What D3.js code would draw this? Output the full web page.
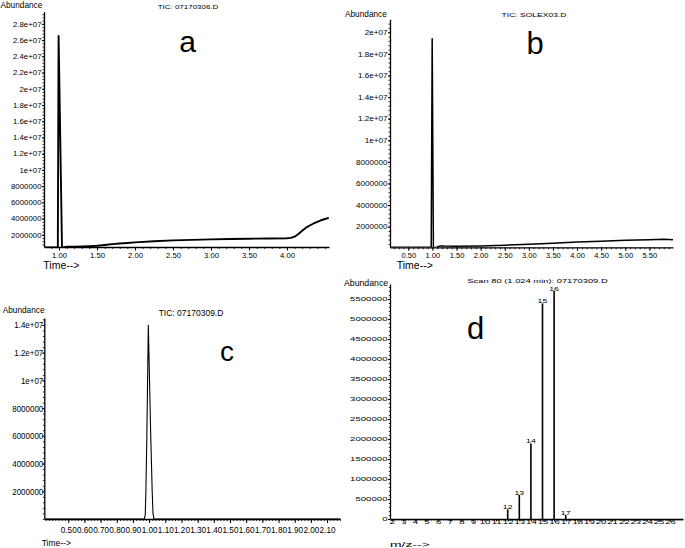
<!DOCTYPE html>
<html><head><meta charset="utf-8">
<script src="https://cdn.jsdelivr.net/npm/d3@7"></script>
<style>
body{margin:0;background:#fff}
svg{display:block}
text{font-family:"Liberation Sans",Arial,Helvetica,sans-serif;fill:#000}
</style>
</head><body>
<svg id="chart" width="685" height="548"></svg>
<script>
// ---------- DATA ----------
// Panel a: TIC 07170306.D
const aTime  = [0.803, 0.985, 0.995, 1.04, 1.06, 1.10, 1.20, 1.30, 1.40, 1.50, 1.60, 1.70, 1.80, 1.90, 2.00, 2.25, 2.50, 2.75, 3.00, 3.25, 3.50, 3.75, 4.00, 4.05, 4.10, 4.15, 4.20, 4.25, 4.30, 4.35, 4.40, 4.45, 4.50, 4.55];
const aAbund = [0.45e6, 0.45e6, 26.5e6, 0.4e6, 0.45e6, 0.53e6, 0.55e6, 0.57e6, 0.6e6, 0.65e6, 0.75e6, 0.85e6, 0.93e6, 1.0e6, 1.07e6, 1.2e6, 1.32e6, 1.38e6, 1.44e6, 1.48e6, 1.52e6, 1.55e6, 1.57e6, 1.62e6, 1.77e6, 2.1e6, 2.5e6, 2.88e6, 3.15e6, 3.4e6, 3.6e6, 3.8e6, 3.95e6, 4.1e6];
const aXTicks  = [1.0, 1.5, 2.0, 2.5, 3.0, 3.5, 4.0];
const aXLabels = ["1.00","1.50","2.00","2.50","3.00","3.50","4.00"];
const aYTicks  = [2e6,4e6,6e6,8e6,10e6,12e6,14e6,16e6,18e6,20e6,22e6,24e6,26e6,28e6];
const aYLabels = ["2000000","4000000","6000000","8000000","1e+07","1.2e+07","1.4e+07","1.6e+07","1.8e+07","2e+07","2.2e+07","2.4e+07","2.6e+07","2.8e+07"];

// Panel b: TIC SOLEX03.D
const bTime  = [0.12, 0.975, 0.995, 1.02, 1.05, 1.10, 1.15, 1.20, 1.25, 1.50, 2.00, 2.50, 3.00, 3.50, 4.00, 4.50, 5.00, 5.50, 5.80, 5.99];
const bAbund = [0.09e6, 0.09e6, 19.4e6, 0.09e6, 0.06e6, 0.12e6, 0.2e6, 0.22e6, 0.2e6, 0.19e6, 0.22e6, 0.28e6, 0.37e6, 0.46e6, 0.58e6, 0.66e6, 0.74e6, 0.8e6, 0.83e6, 0.79e6];
const bXTicks  = [0.5,1.0,1.5,2.0,2.5,3.0,3.5,4.0,4.5,5.0,5.5];
const bXLabels = ["0.50","1.00","1.50","2.00","2.50","3.00","3.50","4.00","4.50","5.00","5.50"];
const bYTicks  = [2e6,4e6,6e6,8e6,10e6,12e6,14e6,16e6,18e6,20e6];
const bYLabels = ["2000000","4000000","6000000","8000000","1e+07","1.2e+07","1.4e+07","1.6e+07","1.8e+07","2e+07"];

// Panel c: TIC 07170309.D
const cTime  = [0.352, 0.97, 0.976, 0.980, 0.986, 0.995, 1.010, 1.019, 1.024, 1.03, 2.18];
const cAbund = [0, 0, 0.3e6, 2e6, 6e6, 14e6, 6e6, 2e6, 0.4e6, 0, 0];
const cXTicks  = [0.5,0.6,0.7,0.8,0.9,1.0,1.1,1.2,1.3,1.4,1.5,1.6,1.7,1.8,1.9,2.0,2.1];
const cXLabels = ["0.50","0.60","0.70","0.80","0.90","1.00","1.10","1.20","1.30","1.40","1.50","1.60","1.70","1.80","1.90","2.00","2.10"];
const cYTicks  = [2e6,4e6,6e6,8e6,10e6,12e6,14e6];
const cYLabels = ["2000000","4000000","6000000","8000000","1e+07","1.2e+07","1.4e+07"];

// Panel d: Scan 80 mass spectrum
const dMz    = [12, 13, 14, 15, 16, 17];
const dAbund = [240000, 600000, 1890000, 5390000, 5700000, 100000];
const dXTicks  = [2,3,4,5,6,7,8,9,10,11,12,13,14,15,16,17,18,19,20,21,22,23,24,25,26];
const dYTicks  = [0,500000,1000000,1500000,2000000,2500000,3000000,3500000,4000000,4500000,5000000,5500000];
const dYLabels = ["0","500000","1000000","1500000","2000000","2500000","3000000","3500000","4000000","4500000","5000000","5500000"];

// ---------- DRAWING ----------
const svg = d3.select("#chart");

function stext(parent, x, y, str, size, sx, anchor){
  return parent.append("text")
    .attr("transform", `translate(${x},${y}) scale(${sx},1)`)
    .attr("text-anchor", anchor || "start")
    .attr("font-size", size)
    .text(str);
}

function panel(o){
  const g = svg.append("g");
  const x = d3.scaleLinear().domain(o.xDomain).range([o.x0, o.x1]);
  const y = d3.scaleLinear().domain(o.yDomain).range([o.axisY, o.yTop]);

  const xm = d3.range(Math.ceil(o.xDomain[0]/o.xMinor-1e-9)*o.xMinor, o.xDomain[1], o.xMinor);
  g.append("g").attr("transform",`translate(0,${o.axisY})`)
    .call(d3.axisBottom(x).tickValues(xm).tickFormat("").tickSize(o.xMinorSize).tickSizeOuter(0))
    .call(s=>s.select(".domain").remove())
    .selectAll("line").attr("stroke","#000").attr("stroke-width",0.8);
  const ym = d3.range(Math.ceil(o.yDomain[0]/o.yMinor-1e-9)*o.yMinor, o.yDomain[1], o.yMinor);
  g.append("g").attr("transform",`translate(${o.x0},0)`)
    .call(d3.axisLeft(y).tickValues(ym).tickFormat("").tickSize(o.yMinorSize).tickSizeOuter(0))
    .call(s=>s.select(".domain").remove())
    .selectAll("line").attr("stroke","#000").attr("stroke-width",0.8);

  const xa = g.append("g").attr("transform",`translate(0,${o.axisY})`)
    .call(d3.axisBottom(x).tickValues(o.xTicks).tickFormat((d,i)=>o.xLabels[i])
      .tickSize(o.xTickSize).tickPadding(o.xPad).tickSizeOuter(0));
  xa.select(".domain").attr("stroke","#000").attr("stroke-width",1.3);
  xa.selectAll(".tick line").attr("stroke","#000").attr("stroke-width",1);
  xa.selectAll(".tick text").attr("font-size",o.xFont).attr("font-family",null)
    .attr("transform",`scale(${o.xSx},1)`).attr("fill","#000");

  const ya = g.append("g").attr("transform",`translate(${o.x0},0)`)
    .call(d3.axisLeft(y).tickValues(o.yTicks).tickFormat((d,i)=>o.yLabels[i])
      .tickSize(o.yTickSize).tickPadding(o.yPad).tickSizeOuter(0));
  ya.select(".domain").attr("stroke","#000").attr("stroke-width",1.3);
  ya.selectAll(".tick line").attr("stroke","#000").attr("stroke-width",1);
  ya.selectAll(".tick text").attr("font-size",o.yFont).attr("font-family",null)
    .attr("x", -(o.yTickSize+o.yPad)/o.ySx)
    .attr("transform",`scale(${o.ySx},1)`).attr("fill","#000");

  const id = "clip"+o.name;
  svg.append("clipPath").attr("id",id).append("rect")
    .attr("x",o.x0).attr("y",o.yTop-15).attr("width",o.x1-o.x0).attr("height",o.axisY-o.yTop+15);
  const plot = g.append("g").attr("clip-path",`url(#${id})`);
  return {g, x, y, plot};
}

function trace(p, t, v, w){
  const line = d3.line().x((d,i)=>p.x(t[i])).y((d,i)=>p.y(v[i]));
  p.plot.append("path").datum(t).attr("d",line)
    .attr("fill","none").attr("stroke","#000").attr("stroke-width",w).attr("stroke-linejoin","round");
}

// Panel a
const pa = panel({name:"a", x0:44, x1:329, axisY:247, yTop:11.7,
  xDomain:[0.803,4.553], yDomain:[0.5e6,29.5e6],
  xTicks:aXTicks, xLabels:aXLabels, xMinor:0.1, xMinorSize:2, xTickSize:3.5, xPad:2.5, xFont:7, xSx:1.1,
  yTicks:aYTicks, yLabels:aYLabels, yMinor:0.4e6, yMinorSize:1.5, yTickSize:2, yPad:0.5, yFont:7, ySx:1.12});
trace(pa, aTime, aAbund, 1.9);
stext(svg, 0.5, 8.3, "Abundance", 9, 0.92);
stext(svg, 188, 9.3, "TIC: 07170306.D", 5.5, 1.45, "middle");
stext(svg, 187.5, 52, "a", 30, 1, "middle");
stext(svg, 43.3, 269.3, "Time-->", 10.5, 1);

// Panel b
const pb = panel({name:"b", x0:390, x1:673, axisY:247.3, yTop:19.3,
  xDomain:[0.12,5.99], yDomain:[0.09e6,21.2e6],
  xTicks:bXTicks, xLabels:bXLabels, xMinor:0.1, xMinorSize:2, xTickSize:3.5, xPad:2.5, xFont:7, xSx:1.08,
  yTicks:bYTicks, yLabels:bYLabels, yMinor:0.4e6, yMinorSize:1.5, yTickSize:2, yPad:0.5, yFont:7, ySx:1.16});
trace(pb, bTime, bAbund, 1.5);
stext(svg, 345, 16.7, "Abundance", 9, 0.92);
stext(svg, 534, 16.7, "TIC: SOLEX03.D", 5.5, 1.55, "middle");
stext(svg, 535, 54.3, "b", 31, 1, "middle");
stext(svg, 396.7, 269.3, "Time-->", 10.5, 1);

// Panel c
const pc = panel({name:"c", x0:44.3, x1:340, axisY:519, yTop:318,
  xDomain:[0.352,2.18], yDomain:[0,14.5e6],
  xTicks:cXTicks, xLabels:cXLabels, xMinor:0.02, xMinorSize:2, xTickSize:4, xPad:3.4, xFont:9.3, xSx:0.88,
  yTicks:cYTicks, yLabels:cYLabels, yMinor:0.4e6, yMinorSize:1.5, yTickSize:2, yPad:-1, yFont:9.3, ySx:0.86});
trace(pc, cTime, cAbund, 1.1);
stext(svg, 2.7, 313.3, "Abundance", 9, 0.92);
stext(svg, 191, 316, "TIC: 07170309.D", 8.5, 1, "middle");
stext(svg, 227, 361, "c", 28, 1, "middle");
stext(svg, 41.7, 546, "Time-->", 8.5, 1);

// Panel d
const pd = panel({name:"d", x0:390, x1:683, axisY:519, yTop:284,
  xDomain:[1.853,27.11], yDomain:[0,5.875e6],
  xTicks:dXTicks, xLabels:dXTicks.map(String), xMinor:0.2, xMinorSize:1.5, xTickSize:2.5, xPad:-2, xFont:6, xSx:1.6,
  yTicks:dYTicks, yLabels:dYLabels, yMinor:1e5, yMinorSize:1.2, yTickSize:2, yPad:0.5, yFont:5.5, ySx:1.75});
pd.plot.selectAll("line.bar").data(dMz).join("line").attr("class","bar")
  .attr("x1",d=>pd.x(d)).attr("x2",d=>pd.x(d))
  .attr("y1",pd.y(0)).attr("y2",(d,i)=>pd.y(dAbund[i]))
  .attr("stroke","#000").attr("stroke-width",1.6);
dMz.forEach((m,i)=>{
  stext(pd.g, pd.x(m), pd.y(dAbund[i])-0.5, String(m), 5.5, 1.6, "middle");
});
stext(svg, 344, 286, "Abundance", 9, 0.97);
stext(svg, 537.5, 282.5, "Scan 80 (1.024 min): 07170309.D", 5.2, 1.8, "middle");
stext(svg, 475.5, 339.3, "d", 31, 1, "middle");
stext(svg, 390, 546.7, "m/z-->", 7.5, 1.86);
</script>
</body></html>
